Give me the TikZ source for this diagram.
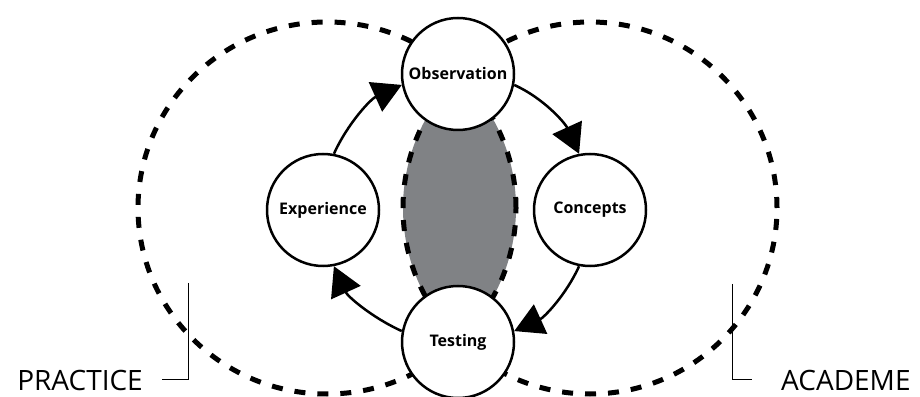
\documentclass[tikz,border=0pt]{standalone}
\usepackage{fontspec}
\setmainfont{Open Sans}
\usetikzlibrary{arrows.meta}
\definecolor{lensgray}{RGB}{128,130,133}
\begin{document}
\begin{tikzpicture}[x=1pt,y=1pt,
  stage/.style={circle,draw,line width=2.5pt,fill=white,minimum size=112pt,
    inner sep=0pt,font=\bfseries\fontsize{16}{18}\selectfont},
  field/.style={dash pattern=on 11pt off 12pt,line width=5pt},
  cycle/.style={line width=2.5pt,-{Triangle[length=29pt,width=32pt]},looseness=0.9},
  side/.style={font=\fontsize{28}{30}\selectfont,inner ysep=0pt}]
  \useasboundingbox (0,0) rectangle (920,396);
  % shared ground of the two fields
  \begin{scope}
    \clip (327,188) ellipse [x radius=189, y radius=186];
    \fill[lensgray] (590,188) ellipse [x radius=187, y radius=186];
  \end{scope}
  \draw[field] (327,188) ellipse [x radius=189, y radius=186];
  \draw[field] (590,188) ellipse [x radius=187, y radius=186];
  % the learning cycle
  \node[stage] (observation) at (458,322) {Observation};
  \node[stage] (concepts) at (590,186) {Concepts};
  \node[stage] (testing) at (458,54) {Testing};
  \node[stage] (experience) at (323,186) {Experience};
  \draw[cycle] (observation.349) to[out=-24.4,in=114.4] (concepts.101);
  \draw[cycle] (concepts.259) to[out=-114.4,in=24.4] (testing.11);
  \draw[cycle] (testing.169) to[out=155.6,in=-65.6] (experience.281);
  \draw[cycle] (experience.79) to[out=65.6,in=-155.6] (observation.191);
  % labels
  \node[side,anchor=base east,inner xsep=19pt] (practice) at (162,6) {PRACTICE};
  \node[side,anchor=base west,inner xsep=29pt] (academe) at (752,6) {ACADEME};
  \coordinate (practicetop) at (188,113);
  \coordinate (academetop) at (732,112);
  \draw[line width=1pt] (practicetop) |- (practice);
  \draw[line width=1pt] (academetop) |- (academe);
\end{tikzpicture}
\end{document}
